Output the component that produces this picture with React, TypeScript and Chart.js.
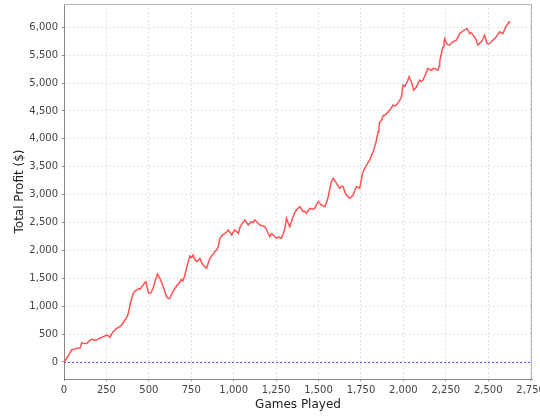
import React, { useEffect, useRef } from "react";
import { Chart, registerables } from "chart.js";

Chart.register(...registerables);

const games = [
  0, 10, 25, 35, 45, 60, 75, 94, 100, 104, 118, 134, 150, 163, 180, 192, 205, 222, 237, 251,
  262, 271, 280, 290, 305, 320, 330, 340, 359, 370, 379, 389, 400, 408, 418, 428, 440, 448, 458, 467,
  475, 483, 490, 497, 506, 516, 526, 536, 545, 551, 558, 565, 575, 585, 595, 605, 615, 624, 635, 650,
  665, 680, 690, 700, 712, 722, 732, 742, 752, 761, 771, 781, 791, 801, 811, 820, 830, 840, 850, 860,
  875, 889, 900, 909, 919, 932, 948, 958, 968, 978, 988, 998, 1007, 1017, 1027, 1037, 1050, 1066, 1076, 1086,
  1095, 1105, 1115, 1125, 1140, 1154, 1170, 1184, 1200, 1213, 1223, 1233, 1242, 1252, 1265, 1280, 1292, 1302, 1311, 1320,
  1331, 1340, 1350, 1360, 1370, 1380, 1390, 1400, 1409, 1419, 1429, 1440, 1449, 1465, 1478, 1488, 1498, 1508, 1518, 1527,
  1537, 1547, 1557, 1565, 1571, 1578, 1586, 1596, 1606, 1615, 1625, 1635, 1645, 1655, 1665, 1675, 1684, 1694, 1704, 1714,
  1724, 1733, 1743, 1751, 1759, 1770, 1783, 1792, 1802, 1812, 1822, 1830, 1837, 1844, 1851, 1856, 1861, 1871, 1881, 1890,
  1900, 1910, 1920, 1930, 1939, 1949, 1959, 1969, 1979, 1989, 1994, 1998, 2008, 2018, 2026, 2034, 2040, 2047, 2054, 2061,
  2069, 2077, 2087, 2097, 2106, 2116, 2124, 2132, 2139, 2145, 2155, 2165, 2175, 2185, 2195, 2204, 2210, 2214, 2219, 2224,
  2229, 2234, 2239, 2244, 2249, 2254, 2264, 2273, 2283, 2293, 2303, 2313, 2322, 2332, 2342, 2352, 2364, 2375, 2383, 2391,
  2401, 2411, 2421, 2430, 2435, 2440, 2450, 2460, 2470, 2479, 2486, 2493, 2501, 2509, 2518, 2528, 2538, 2548, 2558, 2568,
  2577, 2587, 2595, 2603, 2610, 2617, 2623, 2630,
];

const profit = [
  0, 40, 107, 170, 215, 230, 245, 250, 290, 346, 330, 335, 380, 407, 390, 394, 420, 442, 460, 484,
  470, 442, 500, 543, 590, 622, 640, 663, 753, 800, 872, 1021, 1150, 1231, 1270, 1290, 1320, 1303, 1350, 1380,
  1420, 1439, 1330, 1242, 1230, 1260, 1330, 1439, 1520, 1577, 1540, 1500, 1430, 1349, 1250, 1170, 1140, 1141, 1220, 1300,
  1370, 1420, 1480, 1450, 1550, 1679, 1800, 1900, 1870, 1918, 1840, 1798, 1820, 1858, 1780, 1738, 1710, 1679, 1770, 1858,
  1920, 1977, 2010, 2066, 2216, 2270, 2306, 2330, 2366, 2320, 2276, 2330, 2366, 2340, 2306, 2414, 2480, 2545, 2500, 2455,
  2490, 2515, 2500, 2545, 2500, 2455, 2440, 2425, 2330, 2246, 2300, 2276, 2250, 2216, 2240, 2220, 2300, 2396, 2575, 2500,
  2425, 2520, 2604, 2680, 2724, 2760, 2784, 2740, 2694, 2700, 2665, 2720, 2754, 2740, 2754, 2820, 2873, 2840, 2814, 2800,
  2784, 2860, 2963, 3080, 3172, 3250, 3292, 3250, 3202, 3160, 3113, 3150, 3142, 3050, 2993, 2960, 2934, 2960, 2993, 3080,
  3142, 3130, 3113, 3250, 3382, 3460, 3530, 3580, 3620, 3700, 3769, 3850, 3919, 4020, 4127, 4220, 4306, 4330, 4420, 4420,
  4456, 4480, 4516, 4560, 4606, 4590, 4606, 4650, 4695, 4755, 4880, 4964, 4940, 4995, 5050, 5113, 5070, 5023, 4950, 4875,
  4900, 4934, 5000, 5054, 5030, 5054, 5110, 5173, 5220, 5262, 5240, 5233, 5260, 5262, 5240, 5233, 5300, 5382, 5460, 5531,
  5600, 5651, 5720, 5800, 5760, 5711, 5690, 5681, 5720, 5741, 5760, 5771, 5830, 5889, 5910, 5938, 5960, 5979, 5930, 5889,
  5900, 5860, 5820, 5771, 5720, 5681, 5720, 5741, 5800, 5860, 5780, 5711, 5700, 5711, 5740, 5771, 5800, 5830, 5880, 5920,
  5900, 5889, 5950, 6009, 6040, 6069, 6099, 6080,
];

const xTicks = [0, 250, 500, 750, 1000, 1250, 1500, 1750, 2000, 2250, 2500, 2750];
const yTicks = [0, 500, 1000, 1500, 2000, 2500, 3000, 3500, 4000, 4500, 5000, 5500, 6000];
const zeroMarker = 0;

const FONT = "'DejaVu Sans', sans-serif";

export default function App() {
  const ref = useRef<HTMLCanvasElement>(null);

  useEffect(() => {
    document.body.style.margin = "0";
    const fmt = (v: number) => v.toLocaleString("en-US");

    const framePlugin = {
      id: "frame",
      beforeDatasetsDraw(chart: any) {
        const { ctx, chartArea, scales } = chart;
        const y = Math.round(scales.y.getPixelForValue(zeroMarker)) + 0.5;
        ctx.save();
        ctx.strokeStyle = "rgba(70,70,255,0.9)";
        ctx.lineWidth = 1;
        ctx.setLineDash([2, 2]);
        ctx.beginPath();
        ctx.moveTo(chartArea.left, y);
        ctx.lineTo(chartArea.right, y);
        ctx.stroke();
        ctx.restore();
      },
      afterDraw(chart: any) {
        const { ctx, chartArea } = chart;
        ctx.save();
        ctx.strokeStyle = "#b4b4b4";
        ctx.lineWidth = 1;
        ctx.beginPath();
        ctx.moveTo(chartArea.left, chartArea.top + 0.5);
        ctx.lineTo(chartArea.right - 0.5, chartArea.top + 0.5);
        ctx.lineTo(chartArea.right - 0.5, chartArea.bottom);
        ctx.stroke();
        ctx.restore();
      },
    };

    const chart = new Chart(ref.current!, {
      type: "line",
      data: {
        datasets: [
          {
            data: games.map((g, i) => ({ x: g, y: profit[i] })),
            borderColor: "#ff5252",
            borderWidth: 1.5,
            pointRadius: 0,
            tension: 0,
            fill: false,
          },
        ],
      },
      options: {
        animation: false,
        responsive: false,
        plugins: { legend: { display: false }, tooltip: { enabled: false } },
        layout: { padding: { left: 0, right: 8, top: 4, bottom: 0 } },
        scales: {
          x: {
            type: "linear",
            min: 0,
            max: 2758,
            afterBuildTicks: (s: any) => {
              s.ticks = xTicks.map((v) => ({ value: v }));
            },
            afterFit: (s: any) => {
              s.height = 41;
              s.paddingLeft = 0;
              s.paddingRight = 0;
            },
            ticks: {
              autoSkip: false,
              maxRotation: 0,
              padding: 3,
              color: "#444",
              font: { family: FONT, size: 10 },
              callback: (v: any) => fmt(Number(v)),
            },
            grid: {
              color: "#e2e2e2",
              lineWidth: 1,
              tickLength: 2,
              tickColor: "#888",
              tickBorderDash: [],
            },
            border: { display: true, color: "#888", width: 1, dash: [2, 2] },
            title: {
              display: true,
              text: "Games Played",
              color: "#222",
              font: { family: FONT, size: 12 },
              padding: { top: 0, bottom: 8 },
            },
          },
          y: {
            type: "linear",
            min: -305,
            max: 6418,
            afterBuildTicks: (s: any) => {
              s.ticks = yTicks.map((v) => ({ value: v }));
            },
            afterFit: (s: any) => {
              s.width = 64;
              s.paddingTop = 0;
              s.paddingBottom = 0;
            },
            ticks: {
              padding: 4,
              color: "#444",
              font: { family: FONT, size: 10 },
              callback: (v: any) => fmt(Number(v)),
            },
            grid: {
              color: "#e2e2e2",
              lineWidth: 1,
              tickLength: 2,
              tickColor: "#888",
              tickBorderDash: [],
            },
            border: { display: true, color: "#888", width: 1, dash: [2, 2] },
            title: {
              display: true,
              text: "Total Profit ($)",
              color: "#222",
              font: { family: FONT, size: 12 },
              padding: { top: 13, bottom: 0 },
            },
          },
        },
      },
      plugins: [framePlugin],
    } as any);

    return () => chart.destroy();
  }, []);

  return <canvas ref={ref} width={540} height={420} style={{ display: "block" }} />;
}
